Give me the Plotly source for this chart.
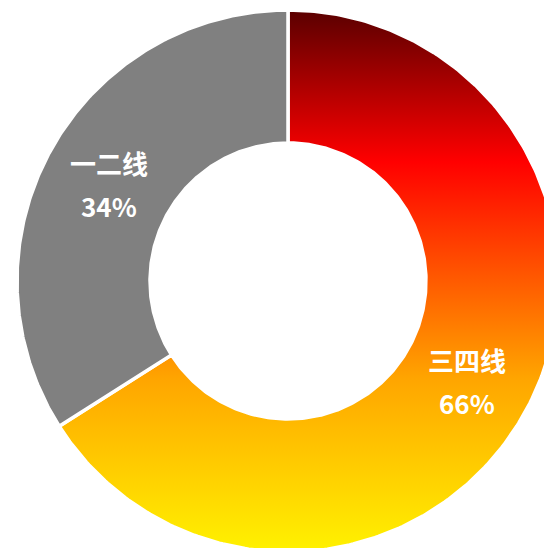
import numpy as np
import plotly.graph_objects as go

# ---- data ----
categories = ["三四线", "一二线"]
values = [66, 34]
pct_labels = ["66%", "34%"]

# ---- style ----
W, H = 544, 548
CX, CY = 288, 281          # donut centre in page pixels
R_OUT, R_IN = 271, 138
gray = "#808080"
grad_scale = [[0.0, "#fff200"], [0.32, "#ffa500"], [0.72, "#ff0000"], [1.0, "#5a0000"]]

fig = go.Figure()

total = float(sum(values))
start = 90.0  # degrees, top, going clockwise
mids = []
for i, (cat, v) in enumerate(zip(categories, values)):
    sweep = 360.0 * v / total
    a0, a1 = start, start - sweep
    t = np.radians(np.linspace(a0, a1, 300))
    xo, yo = R_OUT * np.cos(t), R_OUT * np.sin(t)
    xi, yi = R_IN * np.cos(t[::-1]), R_IN * np.sin(t[::-1])
    xs = np.concatenate([xo, xi, xo[:1]])
    ys = np.concatenate([yo, yi, yo[:1]])
    kw = dict(x=xs, y=ys, mode="lines", fill="toself",
              line=dict(color="white", width=3.5),
              hoverinfo="text", text=f"{cat}: {v}%", showlegend=False)
    if i == 0:
        kw["fillgradient"] = dict(type="vertical", colorscale=grad_scale,
                                  start=-R_OUT, stop=R_OUT)
    else:
        kw["fillcolor"] = gray
    fig.add_trace(go.Scatter(**kw))
    mids.append(np.radians((a0 + a1) / 2))
    start = a1

font = dict(family="Noto Sans CJK SC, Microsoft YaHei, sans-serif", size=26, color="white")
r_lab = (R_OUT + R_IN) / 2
for cat, pct, m in zip(categories, pct_labels, mids):
    x, y = r_lab * np.cos(m), r_lab * np.sin(m)
    fig.add_annotation(x=x, y=y, text=f"<b>{cat}</b>", showarrow=False, font=font, yshift=20)
    fig.add_annotation(x=x, y=y, text=f"<b>{pct}</b>", showarrow=False, font=font, yshift=-23)

fig.update_layout(
    width=W, height=H,
    margin=dict(l=0, r=0, t=0, b=0),
    paper_bgcolor="white", plot_bgcolor="white",
    xaxis=dict(range=[-CX, W - CX], visible=False, fixedrange=True),
    yaxis=dict(range=[CY - H, CY], visible=False, fixedrange=True),
)

fig.write_html(
    "out.html",
    config={"displayModeBar": False},
    post_script="document.body.style.margin='0';document.body.style.overflow='hidden';",
)
